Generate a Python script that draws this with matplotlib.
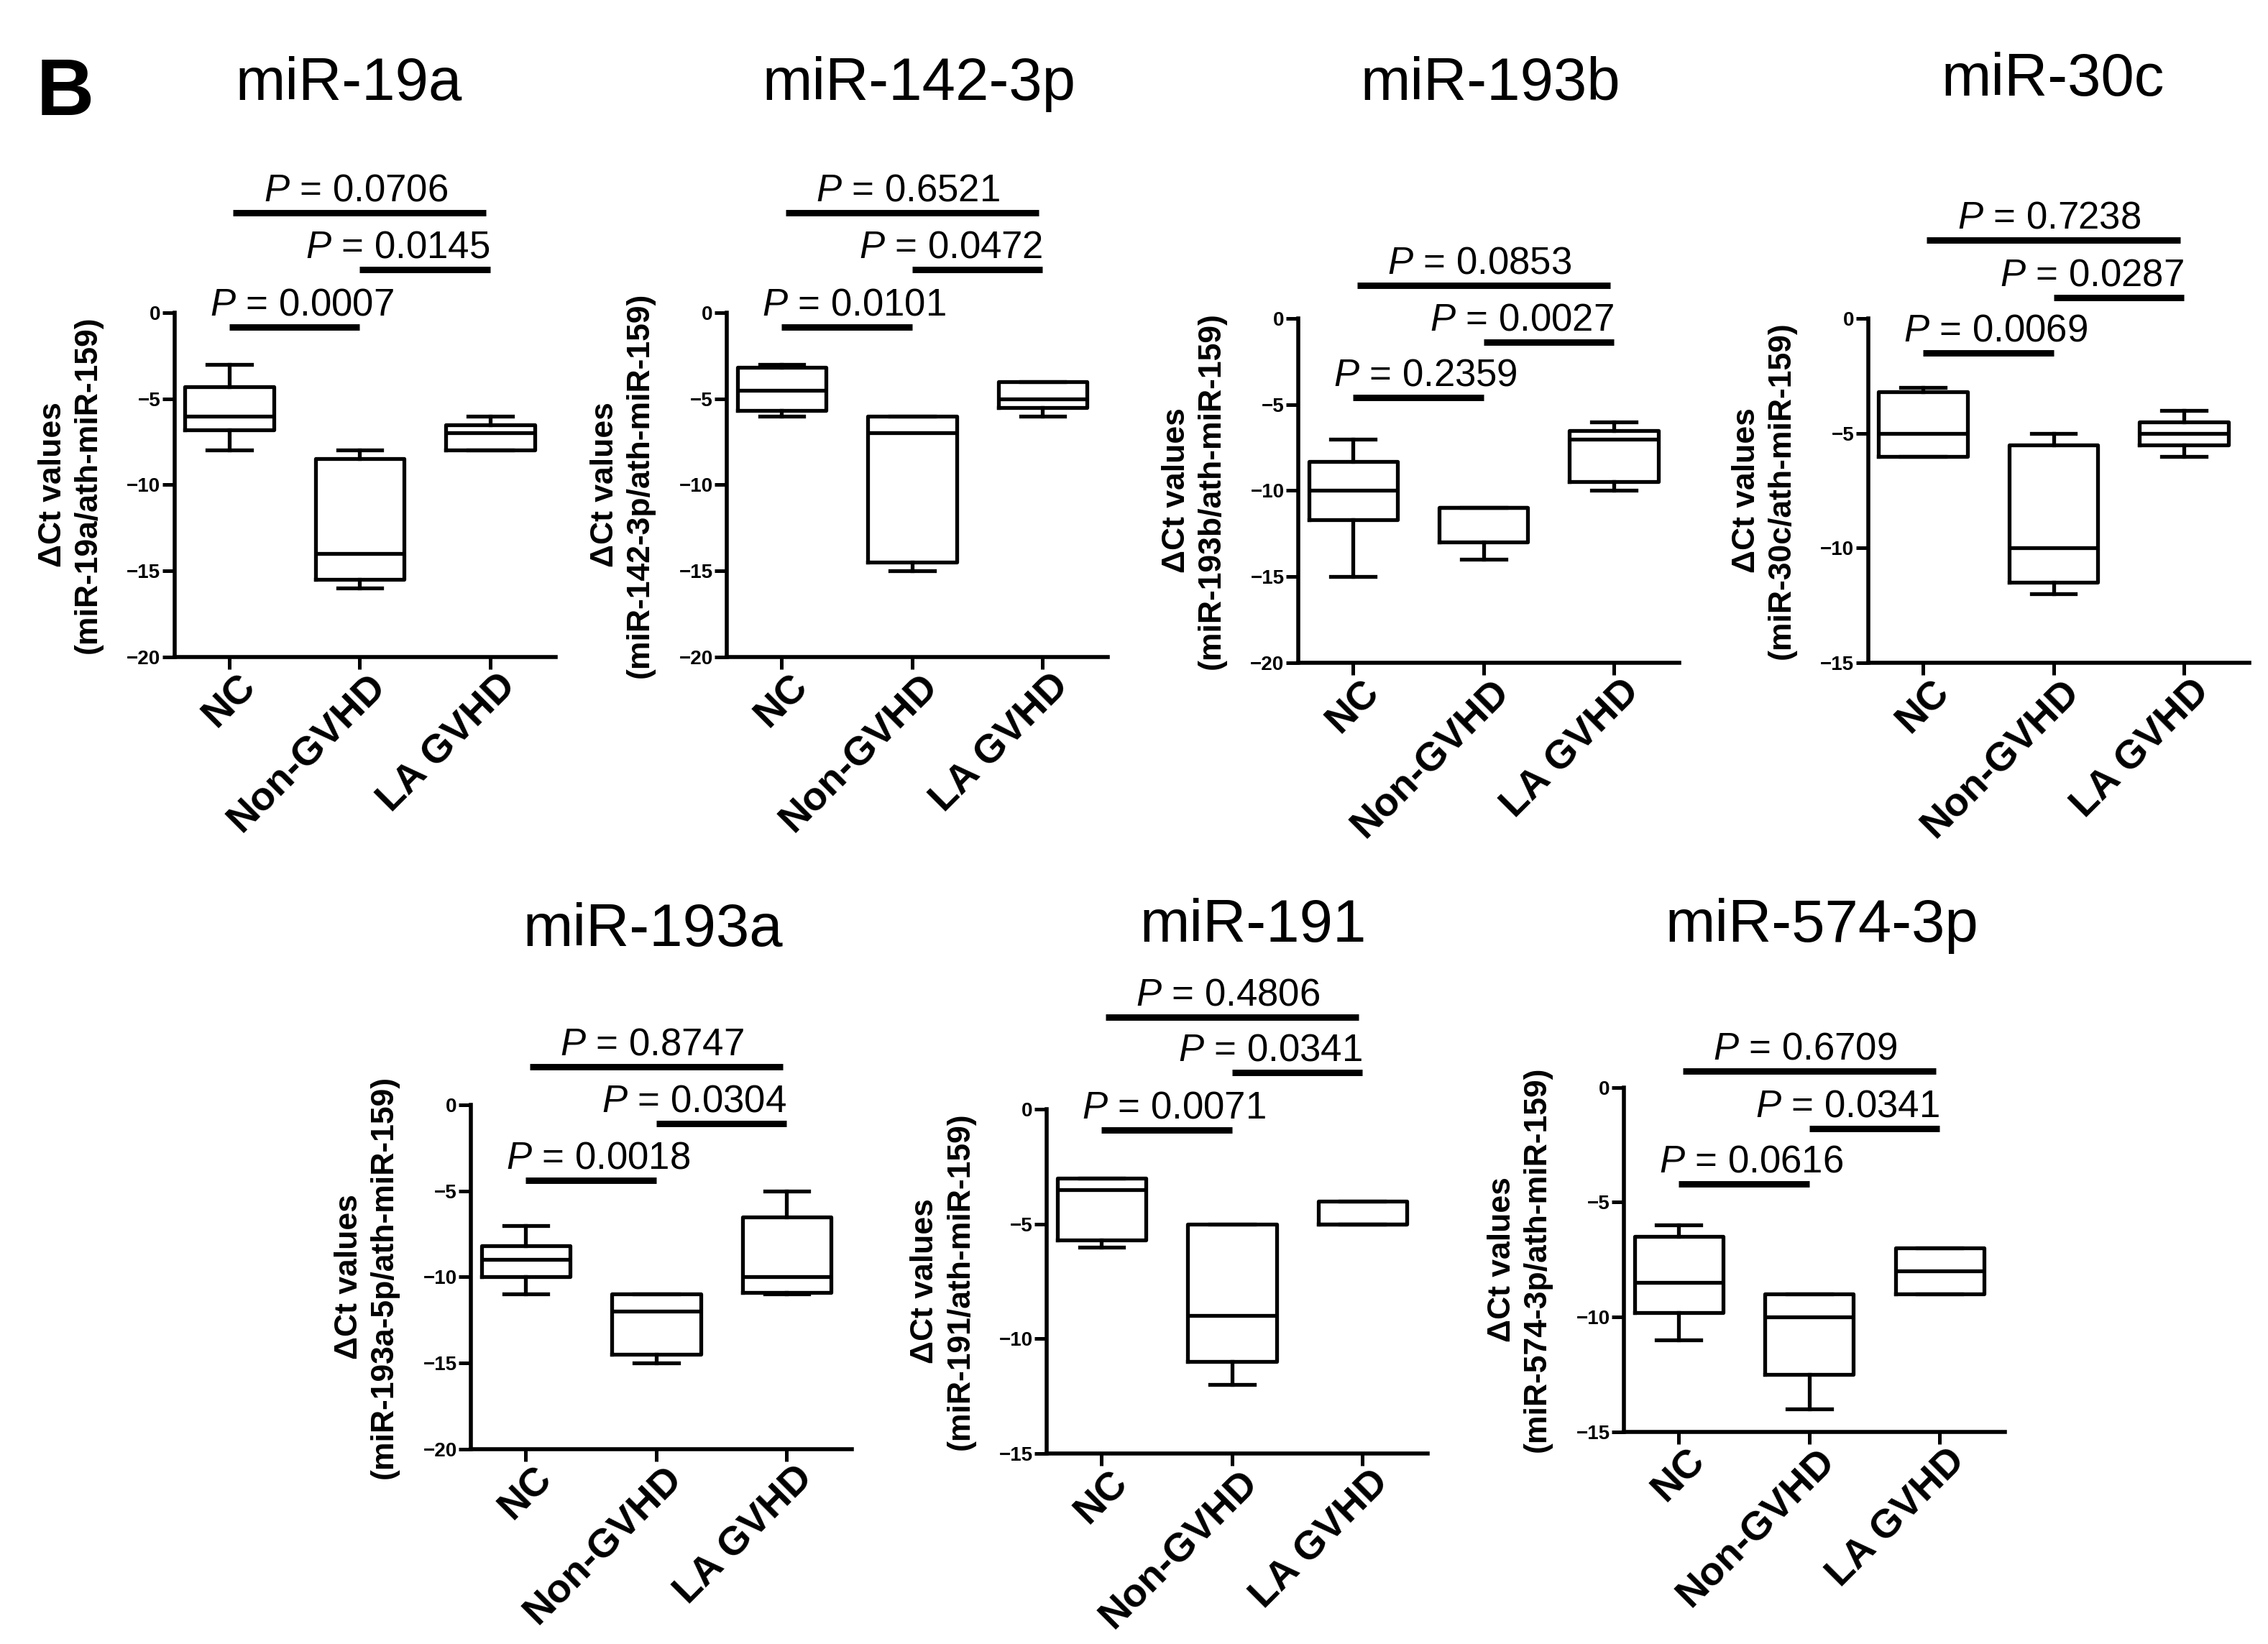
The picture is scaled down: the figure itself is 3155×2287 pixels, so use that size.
import matplotlib
matplotlib.use("Agg")
import matplotlib.pyplot as plt
import matplotlib.transforms as mtransforms

# Data: Delta Ct values (box statistics)
mirs = ["miR-19a", "miR-142-3p", "miR-193b", "miR-30c", "miR-193a", "miR-191", "miR-574-3p"]
label_mirs = ["miR-19a", "miR-142-3p", "miR-193b", "miR-30c", "miR-193a-5p", "miR-191", "miR-574-3p"]
groups = ["NC", "Non-GVHD", "LA GVHD"]

whisker_high = [[-3, -8, -6], [-3, -6, -4], [-7, -11, -6], [-3, -5, -4],
                [-7, -11, -5], [-3, -5, -4], [-6, -9, -7]]
q3 = [[-4.3, -8.5, -6.5], [-3.2, -6, -4], [-8.3, -11, -6.5], [-3.2, -5.5, -4.5],
      [-8.2, -11, -6.5], [-3, -5, -4], [-6.5, -9, -7]]
median = [[-6, -14, -7], [-4.5, -7, -5], [-10, -11, -7], [-5, -10, -5],
          [-9, -12, -10], [-3.5, -9, -5], [-8.5, -10, -8]]
q1 = [[-6.8, -15.5, -8], [-5.7, -14.5, -5.5], [-11.7, -13, -9.5], [-6, -11.5, -5.5],
      [-10, -14.5, -10.9], [-5.7, -11, -5], [-9.8, -12.5, -9]]
whisker_low = [[-8, -16, -8], [-6, -15, -6], [-15, -14, -10], [-6, -12, -6],
               [-11, -15, -11], [-6, -12, -5], [-11, -14, -9]]
y_min = [-20, -20, -20, -15, -20, -15, -15]

# P values: NC vs Non-GVHD, Non-GVHD vs LA GVHD, NC vs LA GVHD
p_values = [["0.0007", "0.0145", "0.0706"], ["0.0101", "0.0472", "0.6521"],
            ["0.2359", "0.0027", "0.0853"], ["0.0069", "0.0287", "0.7238"],
            ["0.0018", "0.0304", "0.8747"], ["0.0071", "0.0341", "0.4806"],
            ["0.0616", "0.0341", "0.6709"]]

# layout (reference measured on a 1560 x 1131 preview)
W, H = 1560.0, 1131.0
ax_left = [120, 500, 893, 1285, 324, 720, 1117]
ax_bottom = [452, 452, 456, 456, 997, 1000, 985]
ax_w, ax_h = 262, 237
title_xy = [(240, 58), (632, 58), (1025, 58), (1412, 55), (449, 640), (862, 637), (1253, 637)]
bar_levels = [[-0.85, 2.5, 5.8], [-0.85, 2.5, 5.8], [-4.6, -1.4, 1.9], [-1.5, 0.9, 3.4],
              [-4.4, -1.1, 2.2], [-0.9, 1.6, 4.0], [-4.2, -1.8, 0.7]]

FONT = "Liberation Sans"
plt.rcParams["font.family"] = [FONT, "DejaVu Sans"]
plt.rcParams["mathtext.fontset"] = "custom"
plt.rcParams["mathtext.it"] = FONT + ":italic"
plt.rcParams["mathtext.rm"] = FONT

fig = plt.figure(figsize=(15.775, 11.435), dpi=200)

fig.text(45 / W, 1 - 65 / H, "B", fontsize=40, fontweight="bold", ha="center", va="center")

shift = mtransforms.ScaledTranslation(0.05, 0.04, fig.dpi_scale_trans)

for i, mir in enumerate(mirs):
    ax = fig.add_axes([ax_left[i] / W, 1 - ax_bottom[i] / H, ax_w / W, ax_h / H])
    stats = []
    for j, g in enumerate(groups):
        stats.append(dict(label=g, med=median[i][j], q1=q1[i][j], q3=q3[i][j],
                          whislo=whisker_low[i][j], whishi=whisker_high[i][j], fliers=[]))
    line = dict(color="black", linewidth=1.9)
    ax.bxp(stats, positions=range(3), widths=0.68, showfliers=False,
           boxprops=line, whiskerprops=line, capprops=line, medianprops=line)

    ax.set_xlim(-0.42, 2.5)
    ax.set_ylim(y_min[i], 0)
    ax.set_yticks(range(y_min[i], 1, 5))
    ax.spines["top"].set_visible(False)
    ax.spines["right"].set_visible(False)
    ax.spines["left"].set_linewidth(2)
    ax.spines["bottom"].set_linewidth(2)
    ax.tick_params(axis="y", direction="out", length=6, width=1.8, labelsize=10, pad=1)
    ax.tick_params(axis="x", direction="out", length=6, width=1.8, pad=2)
    for lab in ax.get_yticklabels():
        lab.set_fontweight("bold")
    ax.set_xticks(range(3))
    ax.set_xticklabels(groups, rotation=45, ha="right", rotation_mode="anchor",
                       fontsize=20, fontweight="bold")
    for lab in ax.get_xticklabels():
        lab.set_transform(lab.get_transform() + shift)
    ax.set_ylabel("\u0394Ct values\n(" + label_mirs[i] + "/ath-miR-159)",
                  fontsize=16, fontweight="bold", labelpad=12, linespacing=1.25)

    # significance brackets
    lo, mid, top = bar_levels[i]
    pv = p_values[i]
    bar_kw = dict(color="black", linewidth=3.2, clip_on=False, solid_capstyle="butt")
    txt_kw = dict(fontsize=19, va="bottom", annotation_clip=False,
                  textcoords="offset points")
    ax.plot([0, 1], [lo, lo], **bar_kw)
    ax.annotate("$P$ = " + pv[0], (-0.15, lo), xytext=(0, 2), ha="left", **txt_kw)
    ax.plot([1, 2], [mid, mid], **bar_kw)
    ax.annotate("$P$ = " + pv[1], (2.0, mid), xytext=(0, 2), ha="right", **txt_kw)
    ax.plot([0.03, 1.97], [top, top], **bar_kw)
    ax.annotate("$P$ = " + pv[2], (0.97, top), xytext=(0, 2), ha="center", **txt_kw)

    tx, ty = title_xy[i]
    fig.text(tx / W, 1 - ty / H, mir, fontsize=30, ha="center", va="center")

fig.savefig("out.png", dpi=200)
